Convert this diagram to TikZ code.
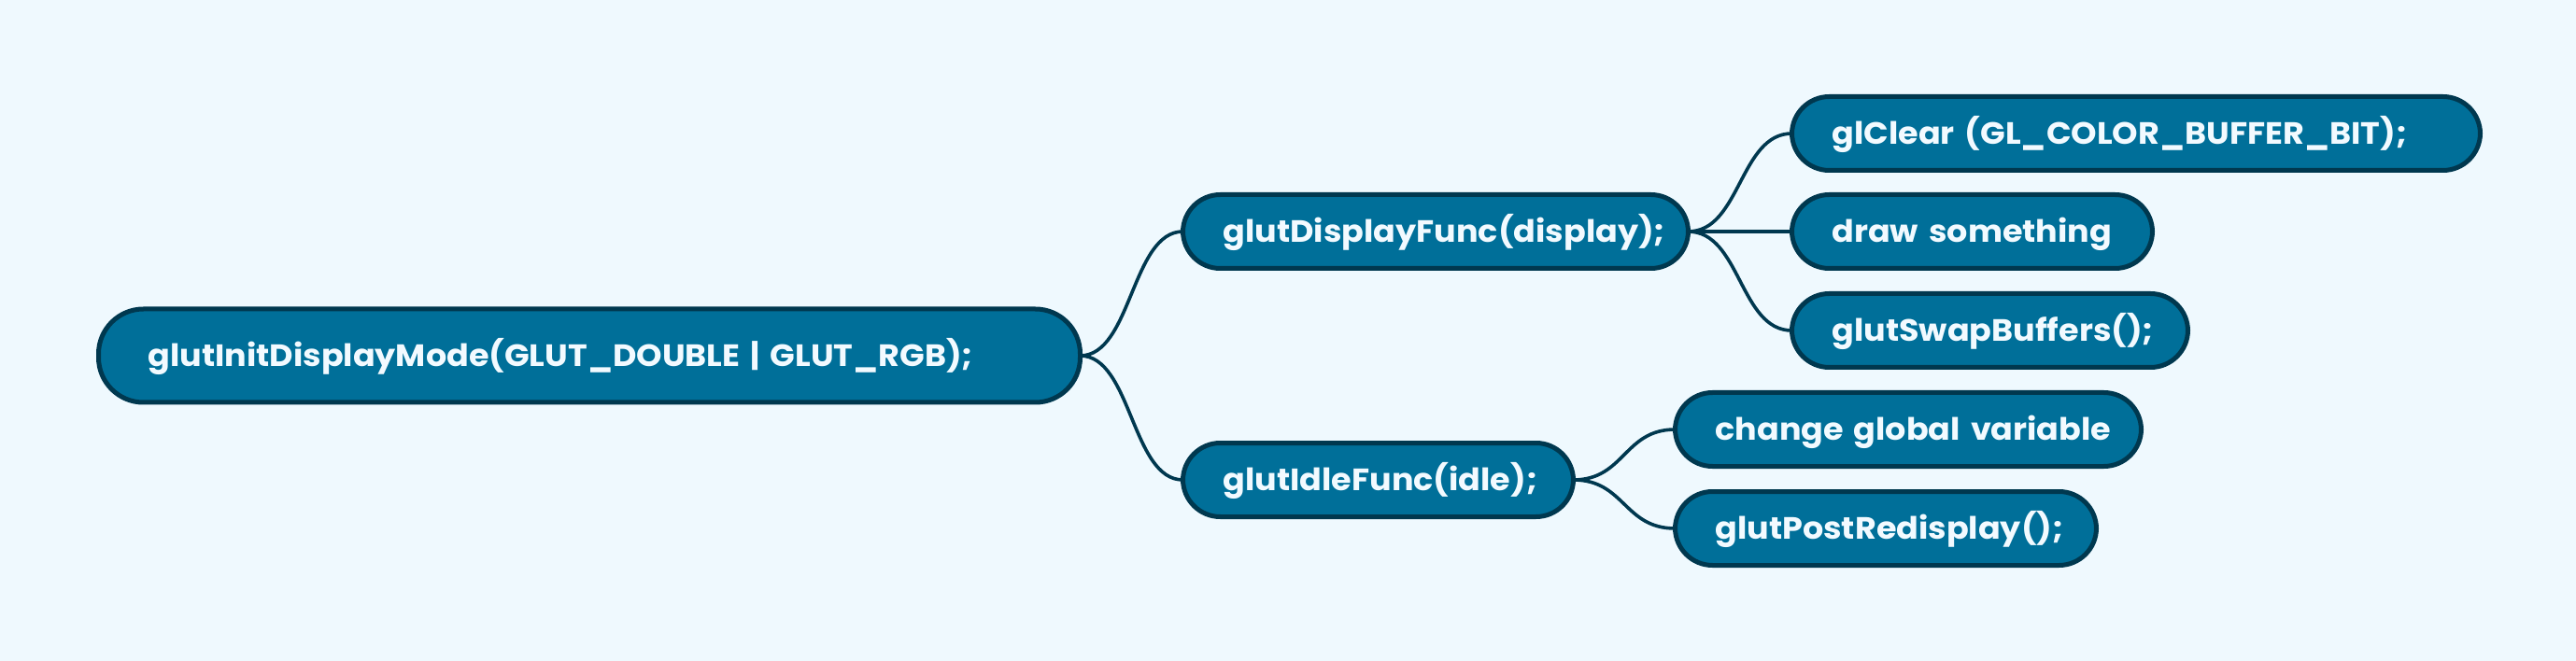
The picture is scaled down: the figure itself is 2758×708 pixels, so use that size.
\documentclass[tikz,border=0pt]{standalone}
\usepackage{fontspec}
\setmainfont{Poppins}[FakeStretch=1.06]
\definecolor{bgc}{HTML}{EFF9FE}
\definecolor{boxc}{HTML}{006F99}
\definecolor{edgec}{HTML}{00384F}
\definecolor{txtc}{HTML}{F2FAFF}
\pgfdeclarelayer{bglayer}
\pgfdeclarelayer{edgelayer}
\pgfsetlayers{bglayer,edgelayer,main}
\begin{document}
\begin{tikzpicture}[x=1pt,y=-1pt,
  box/.style={draw=edgec, fill=boxc, line width=5pt, rounded corners=40pt,
    text=txtc, anchor=west, outer sep=0pt, inner ysep=0pt, inner xsep=43pt,
    minimum height=79pt, text height=23pt, text depth=0pt, align=left,
    font=\bfseries\fontsize{33}{40}\selectfont},
  rootbox/.style={box, rounded corners=48pt, inner xsep=53pt, minimum height=100pt},
  link/.style={draw=edgec, line width=3.6pt}]
\useasboundingbox (0,0) rectangle (2758,708);
\begin{pgfonlayer}{bglayer}
  \fill[bgc] (0,0) rectangle (2758,708);
\end{pgfonlayer}

\node[rootbox, text width=945pt] (root) at (105.5,381) {\mbox{glutInitDisplayMode(GLUT\_DOUBLE | GLUT\_RGB);}};
\node[box, text width=455pt] (disp) at (1266.5,248) {\mbox{glutDisplayFunc(display);}};
\node[box, text width=332pt] (idle) at (1266.5,514) {\mbox{glutIdleFunc(idle);}};
\node[box, text width=651pt] (clear) at (1918.5,143) {\mbox{glClear (GL\_COLOR\_BUFFER\_BIT);}};
\node[box, text width=300pt] (drawit) at (1918.5,248) {\mbox{draw something}};
\node[box, text width=338pt] (swap) at (1918.5,354) {\mbox{glutSwapBuffers();}};
\node[box, text width=413pt] (change) at (1793.5,460) {\mbox{change global variable}};
\node[box, text width=365pt] (post) at (1793.5,566) {\mbox{glutPostRedisplay();}};

\begin{pgfonlayer}{edgelayer}
  \draw[link] (root.east) .. controls +(55,0) and +(-55,0) .. (disp.west);
  \draw[link] (root.east) .. controls +(55,0) and +(-55,0) .. (idle.west);
  \draw[link] (disp.east) .. controls +(56,0) and +(-56,0) .. (clear.west);
  \draw[link] (disp.east) -- (drawit.west);
  \draw[link] (disp.east) .. controls +(56,0) and +(-56,0) .. (swap.west);
  \draw[link] (idle.east) .. controls +(55,0) and +(-55,0) .. (change.west);
  \draw[link] (idle.east) .. controls +(55,0) and +(-55,0) .. (post.west);
\end{pgfonlayer}
\end{tikzpicture}
\end{document}
